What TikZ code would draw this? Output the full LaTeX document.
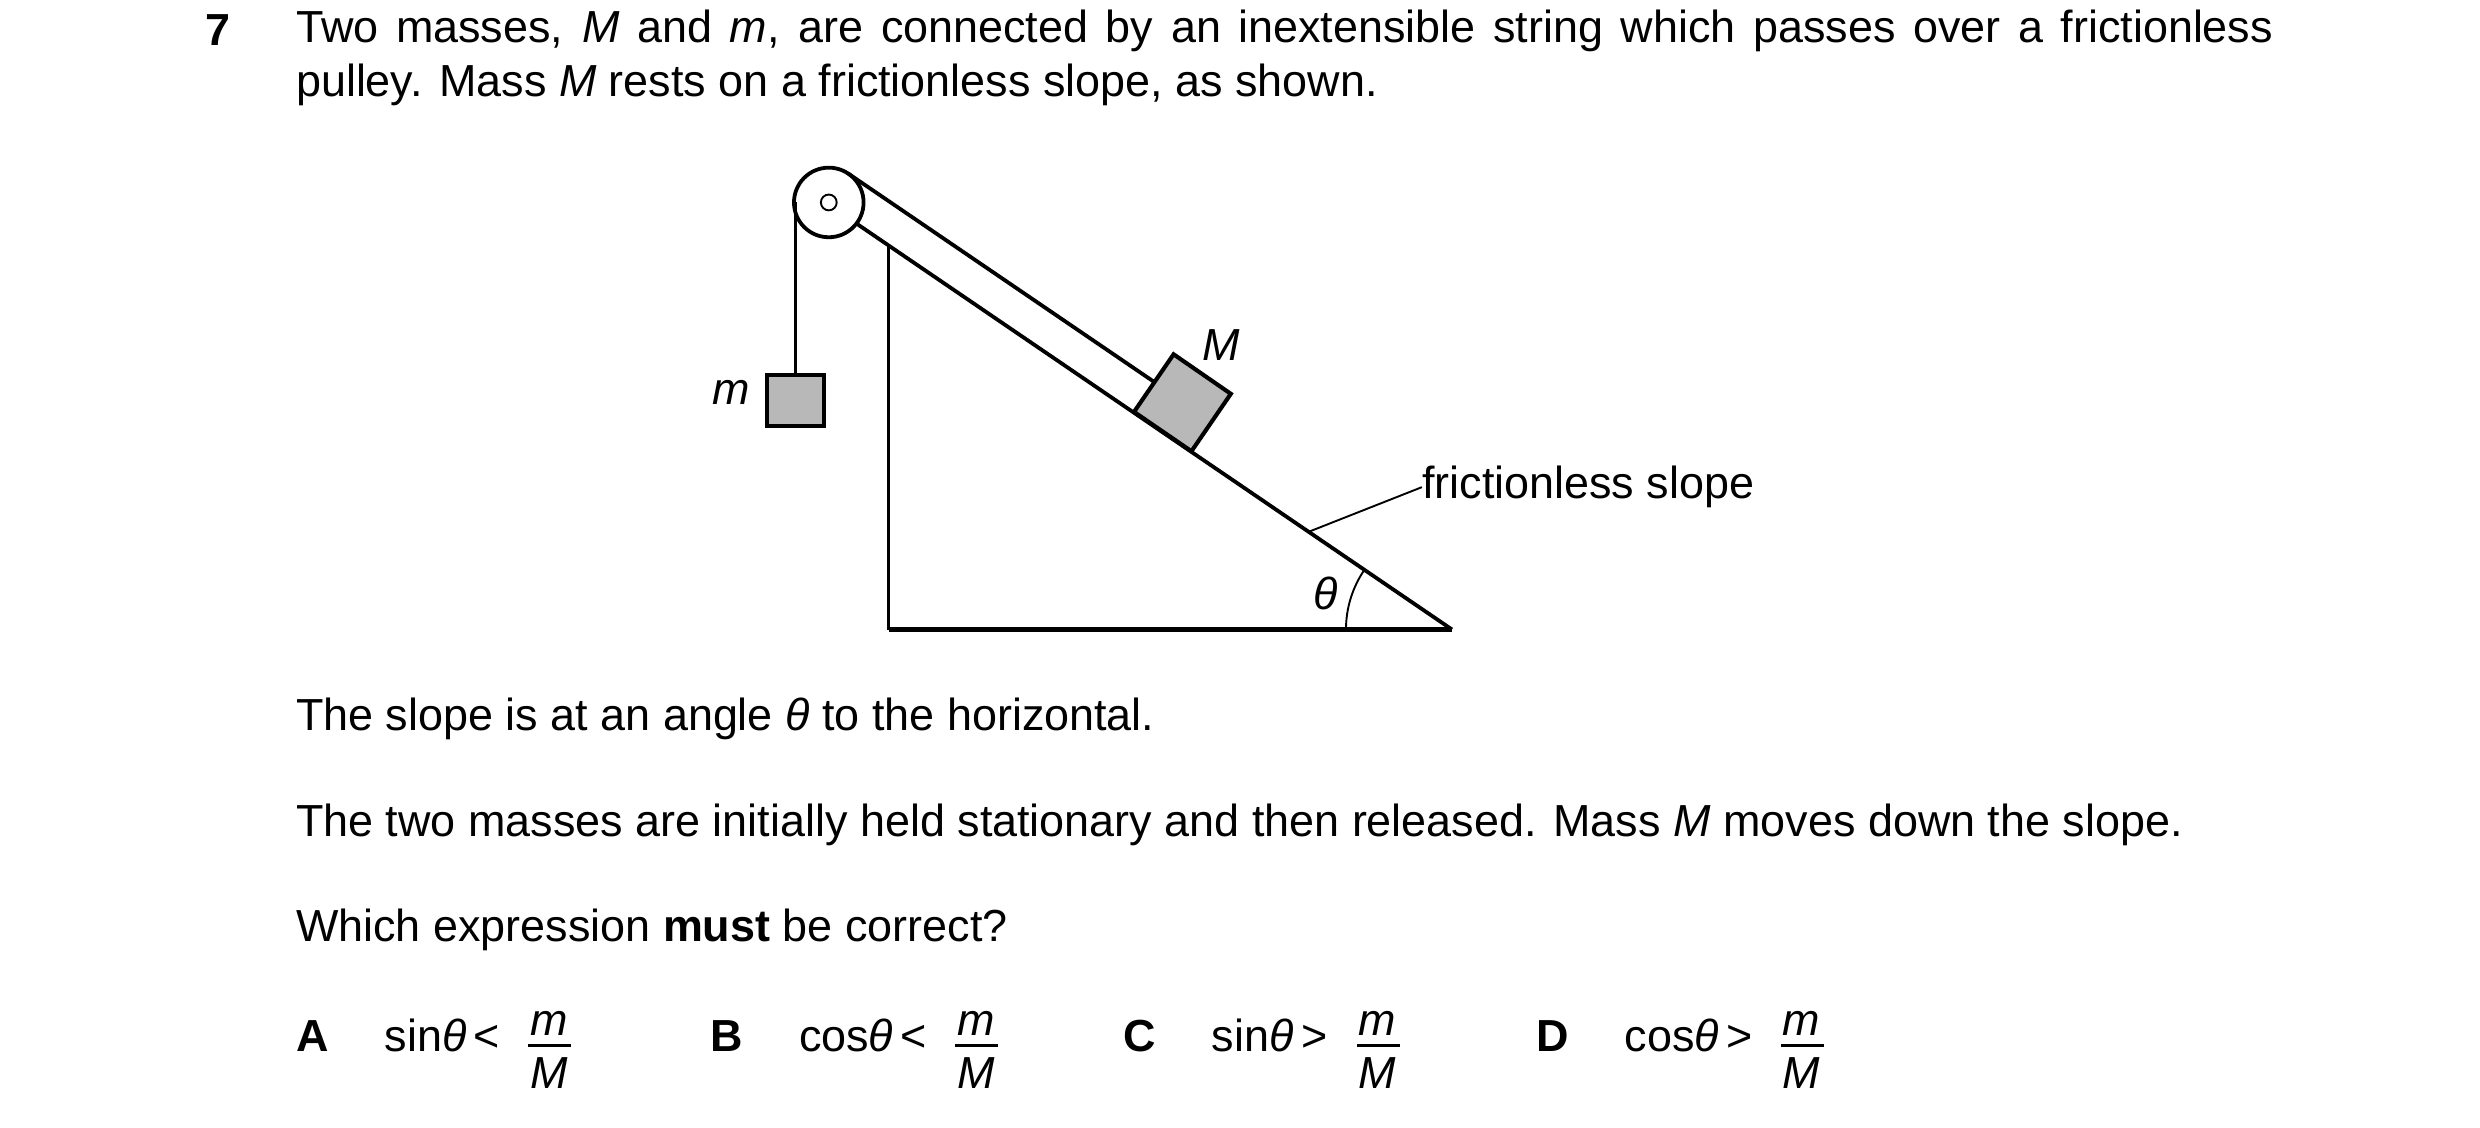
\documentclass[tikz,border=0pt]{standalone}
\usepackage{fontspec}
\setmainfont{Liberation Sans}
\begin{document}
\begin{tikzpicture}[x=1pt,y=-1pt,
  txt/.style={anchor=base west,inner sep=0pt,font=\fontsize{28.4}{34}\selectfont},
  ln/.style={line width=2.4pt},
  mass/.style={fill=black!28,draw=black,line width=2.6pt}]
\useasboundingbox (0,0) rectangle (1568,712.6);
% text
\node[txt,font=\fontsize{28.4}{34}\selectfont\bfseries] (q) at (130,29) {7};
\node[txt,anchor=north west,text width=1250pt,align=justify] (t1) at (187,6)
 {Two masses, \textit{M} and \textit{m}, are connected by an inextensible string which passes over a frictionless pulley. Mass \textit{M} rests on a frictionless slope, as shown.};
\node[txt] (t2) at (187,462) {The slope is at an angle \textit{θ} to the horizontal.};
\node[txt] (t3) at (187,529) {The two masses are initially held stationary and then released. Mass \textit{M} moves down the slope.};
\node[txt] (t4) at (187,595) {Which expression \textbf{must} be correct?};
% options
\foreach \L/\x/\f/\s/\fx in {A/187/sin/</334, B/449/cos/</604, C/710/sin/>/858, D/971/cos/>/1126}{
  \node[txt,font=\fontsize{28.4}{34}\selectfont\bfseries] (o\L) at (\x,665) {\L};
  \node[txt] (e\L) at (\x+56,665) {\f\textit{θ}\,\s};
  \node[txt,anchor=base] (n\L) at (\fx+13,655) {\textit{m}};
  \node[txt,anchor=base] (d\L) at (\fx+13,688) {\textit{M}};
  \draw[line width=1.3pt] (\fx,661) -- (\fx+27,661);
}
% diagram
\coordinate (s0) at (541,141);
\coordinate (s1) at (918,398);
\coordinate (vt) at (562,155.4);
\coordinate (vb) at (562,398);
\draw[ln] (s0) -- (s1);
\draw[line width=1.8pt] (vt) -- (vb);
\draw[line width=3pt] (vb) -- (s1);
\node[circle,draw,line width=2.4pt,minimum size=44pt,inner sep=0pt,fill=white] (p) at (524,128) {};
\node[circle,draw,line width=1.2pt,minimum size=10pt,inner sep=0pt] (ax) at (524,128) {};
\coordinate (st0) at (536.4,109.8);
\coordinate (st1) at (729.9,241.6);
\draw[ln] (st0) -- (st1);
\coordinate (A) at (717,260.4);
\coordinate (B) at (753.3,285.3);
\coordinate (C) at (778.2,249);
\coordinate (D) at (742,224);
\draw[mass,line join=miter] (A) -- (B) -- (C) -- (D) -- cycle;
\coordinate (h0) at (503,128);
\coordinate (h1) at (503,236);
\draw[line width=2pt] (h0) -- (h1);
\node[mass,minimum width=36pt,minimum height=32pt,inner sep=0pt,anchor=north] (mb) at (503,236) {};
\node[txt,anchor=center,font=\fontsize{28.4}{34}\selectfont\itshape] (lm) at (462,248) {m};
\node[txt,anchor=center,font=\fontsize{28.4}{34}\selectfont\itshape] (lM) at (772,218) {M};
\node[txt,anchor=center,font=\fontsize{28.4}{34}\selectfont\itshape] (lt) at (838,375) {θ};
\draw[line width=1.2pt] (851,398) arc[start angle=180,end angle=214.4,radius=67];
\coordinate (l0) at (828,336);
\node[txt,anchor=west] (fs) at (899,308) {frictionless slope};
\draw[line width=1.2pt] (l0) -- (fs.west);
\end{tikzpicture}
\end{document}
